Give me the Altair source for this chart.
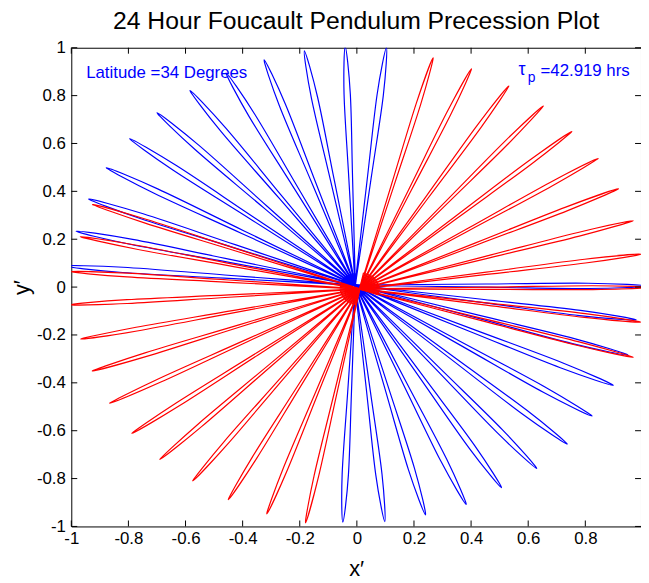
import math
import altair as alt
import pandas as pd

# ---------------- data ----------------
TITLE = "24 Hour Foucault Pendulum Precession Plot"
X_TITLE = "x′"
Y_TITLE = "y′"
LAT_TEXT = "Latitude =34 Degrees"
TAU_TEXT = "τ"
TAU_SUB = "p"
TAU_VALUE = "=42.919 hrs"

x_ticks = [-1, -0.8, -0.6, -0.4, -0.2, 0, 0.2, 0.4, 0.6, 0.8]
y_ticks = [-1, -0.8, -0.6, -0.4, -0.2, 0, 0.2, 0.4, 0.6, 0.8, 1]

# swing directions (degrees) of each petal tip, and tip radius
red_angles = [75.1, 66.96, 58.4, 49.96, 41.55, 33.17, 24.8, 16.6, 8.4, 0.4,
              -8.0, -16.6, 259.0, 250.9, 242.4, 233.9, 225.5, 217.1, 208.6,
              200.1, 192.1, 183.7, 175.9, 167.4, 159.3]
red_radius = [0.999, 1.0, 0.996, 0.999, 0.992, 0.997, 0.998, 1.0, 0.997, 1.02,
              0.995, 0.999, 0.995, 0.994, 0.993, 0.992, 0.998, 1.0, 0.997,
              0.997, 0.999, 1.02, 1.02, 1.003, 1.0]
blue_angles = [83.7, 92.0, 100.3, 108.7, 117.0, 125.4, 133.9, 142.2, 150.6,
               158.9, 167.0, 175.5, -0.2, -8.4, -17.0, -24.85, -33.4, -41.8,
               -50.3, -58.8, -67.0, -75.6, -84.0, -92.5]
blue_radius = [0.999, 0.997, 0.995, 0.994, 0.995, 0.998, 1.0, 0.999, 1.0,
               1.0, 1.003, 1.02, 1.02, 0.995, 0.999, 0.996, 0.993, 0.996,
               0.995, 0.989, 0.995, 0.991, 0.993, 0.991]

# ---------------- geometry helpers ----------------
W, H = 576, 484
PETAL_SHAPE = [(0.45, 0.6), (0.8, 1.0), (1.0, 0.0), (0.8, -1.0), (0.45, -0.6)]


def petals(angles, radii, hw, ox, oy, back, tag):
    rows = []
    for k, (a, r) in enumerate(zip(angles, radii)):
        t = math.radians(a)
        ux, uy = math.cos(t), math.sin(t)
        nx, ny = -uy, ux
        pts = [(-back, 0.0)] + [(f * r, g * hw) for f, g in PETAL_SHAPE] + [(-back, 0.0)]
        for i, (f, g) in enumerate(pts):
            rows.append({"petal": f"{tag}{k}", "i": i,
                         "x": ox + f * ux + g * nx,
                         "y": oy + f * uy + g * ny})
    return pd.DataFrame(rows)


red_df = petals(red_angles, red_radius, 0.008, 0.01, -0.008, 0.07, "r")
blue_df = petals(blue_angles, blue_radius, 0.011, -0.006, 0.008, 0.05, "b")

FONT = "Liberation Sans"
xscale = alt.Scale(domain=[-1, 0.995], nice=False, zero=False)
yscale = alt.Scale(domain=[-1, 1], nice=False, zero=False)
label_expr = "datum.value < 0 ? '-' + format(-datum.value, '~g') : format(datum.value, '~g')"

xaxis = alt.Axis(values=x_ticks, labelExpr=label_expr, ticks=False, domain=False,
                 grid=False, labelFontSize=17, labelFont=FONT, labelColor="black",
                 labelPadding=4, labelFlush=False, labelOverlap=False,
                 title=X_TITLE, titleFont=FONT, titleFontSize=22,
                 titleFontWeight="normal", titleColor="black", titlePadding=13)
yaxis = alt.Axis(values=y_ticks, labelExpr=label_expr, ticks=False, domain=False,
                 grid=False, labelFontSize=17, labelFont=FONT, labelColor="black",
                 labelPadding=6, labelFlush=False, labelOverlap=False,
                 title=Y_TITLE, titleFont=FONT, titleFontSize=22,
                 titleFontWeight="normal", titleColor="black", titlePadding=3)


def X(f):
    return alt.X(f"{f}:Q", scale=xscale, axis=xaxis)


def Y(f):
    return alt.Y(f"{f}:Q", scale=yscale, axis=yaxis)


def petal_layer(df, color):
    return alt.Chart(df).mark_line(color=color, strokeWidth=1.2, interpolate="cardinal",
                                   clip=True).encode(
        x=X("x"), y=Y("y"), detail="petal:N", order="i:Q")


xt = pd.DataFrame({"x": x_ticks})
yt = pd.DataFrame({"y": y_ticks})
TL = 6
tick_top = alt.Chart(xt).mark_rule(color="black", strokeWidth=1).encode(
    x=X("x"), y=alt.value(0), y2=alt.value(TL))
tick_bottom = alt.Chart(xt).mark_rule(color="black", strokeWidth=1).encode(
    x=X("x"), y=alt.value(H), y2=alt.value(H - TL))
tick_left = alt.Chart(yt).mark_rule(color="black", strokeWidth=1).encode(
    y=Y("y"), x=alt.value(0), x2=alt.value(TL))
tick_right = alt.Chart(yt).mark_rule(color="black", strokeWidth=1).encode(
    y=Y("y"), x=alt.value(W), x2=alt.value(W - TL))


def annotate(text, x, y, size):
    return alt.Chart(pd.DataFrame({"x": [x], "y": [y], "t": [text]})).mark_text(
        align="left", baseline="alphabetic", font=FONT, fontSize=size,
        color="#0000ff").encode(x=X("x"), y=Y("y"), text="t:N")


chart = alt.layer(
    petal_layer(blue_df, "#0000ff"),
    petal_layer(red_df, "#ff0000"),
    tick_top, tick_bottom, tick_left, tick_right,
    annotate(LAT_TEXT, -0.948, 0.873, 17),
    annotate(TAU_TEXT, 0.566, 0.887, 18),
    annotate(TAU_SUB, 0.598, 0.855, 14),
    annotate(TAU_VALUE, 0.643, 0.884, 17),
).properties(
    width=W, height=H,
    title=alt.TitleParams(TITLE, font=FONT, fontSize=25, fontWeight="normal",
                          color="black", anchor="middle", offset=5),
    autosize=alt.AutoSizeParams(type="none"),
    padding={"left": 64, "top": 37, "right": 0, "bottom": 54},
    background="white",
).configure_view(stroke="black", strokeWidth=1)

chart.save("out.html", embed_options={"renderer": "svg", "actions": False})
